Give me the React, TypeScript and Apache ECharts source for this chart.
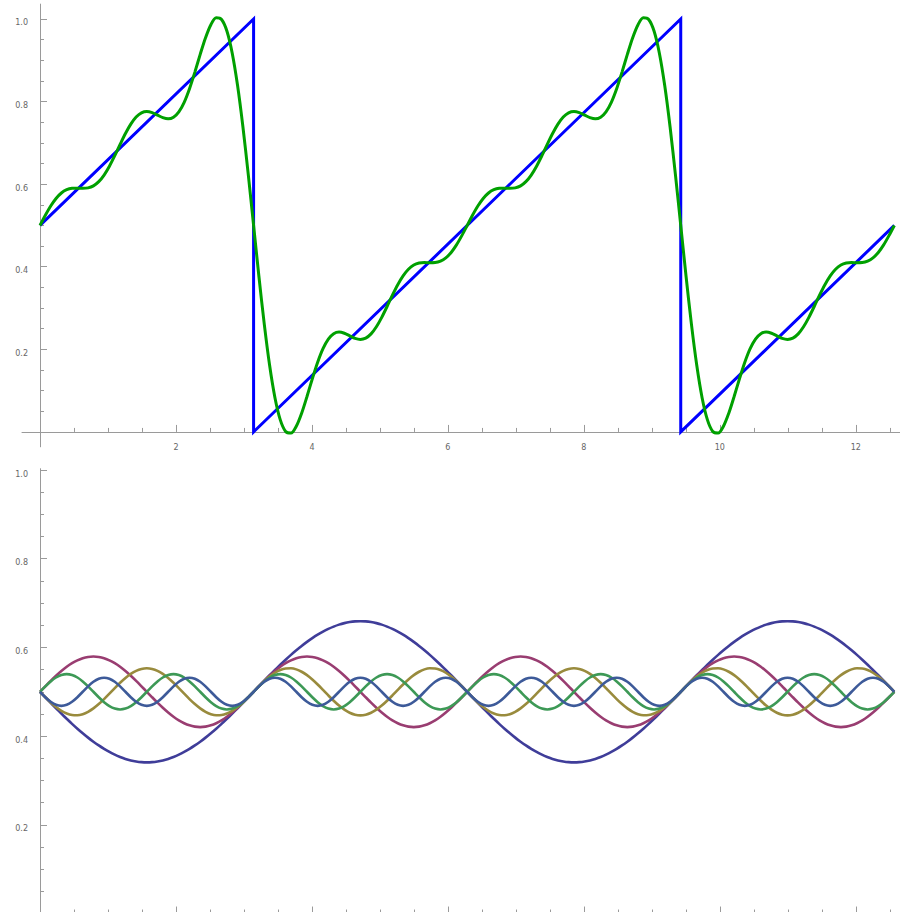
import React, { useEffect, useRef } from 'react';
import * as echarts from 'echarts';

// sample positions (x, radians), step pi/40, shared by the smooth curves
const X = [
  0, 0.0785, 0.1571, 0.2356, 0.3142, 0.3927, 0.4712, 0.5498, 0.6283, 0.7069,
  0.7854, 0.8639, 0.9425, 1.021, 1.0996, 1.1781, 1.2566, 1.3352, 1.4137, 1.4923,
  1.5708, 1.6493, 1.7279, 1.8064, 1.885, 1.9635, 2.042, 2.1206, 2.1991, 2.2777,
  2.3562, 2.4347, 2.5133, 2.5918, 2.6704, 2.7489, 2.8274, 2.906, 2.9845, 3.0631,
  3.1416, 3.2201, 3.2987, 3.3772, 3.4558, 3.5343, 3.6128, 3.6914, 3.7699, 3.8485,
  3.927, 4.0055, 4.0841, 4.1626, 4.2412, 4.3197, 4.3982, 4.4768, 4.5553, 4.6339,
  4.7124, 4.7909, 4.8695, 4.948, 5.0265, 5.1051, 5.1836, 5.2622, 5.3407, 5.4192,
  5.4978, 5.5763, 5.6549, 5.7334, 5.8119, 5.8905, 5.969, 6.0476, 6.1261, 6.2046,
  6.2832, 6.3617, 6.4403, 6.5188, 6.5973, 6.6759, 6.7544, 6.833, 6.9115, 6.99,
  7.0686, 7.1471, 7.2257, 7.3042, 7.3827, 7.4613, 7.5398, 7.6184, 7.6969, 7.7754,
  7.854, 7.9325, 8.0111, 8.0896, 8.1681, 8.2467, 8.3252, 8.4038, 8.4823, 8.5608,
  8.6394, 8.7179, 8.7965, 8.875, 8.9535, 9.0321, 9.1106, 9.1892, 9.2677, 9.3462,
  9.4248, 9.5033, 9.5819, 9.6604, 9.7389, 9.8175, 9.896, 9.9746, 10.0531, 10.1316,
  10.2102, 10.2887, 10.3673, 10.4458, 10.5243, 10.6029, 10.6814, 10.76, 10.8385, 10.917,
  10.9956, 11.0741, 11.1527, 11.2312, 11.3097, 11.3883, 11.4668, 11.5454, 11.6239, 11.7024,
  11.781, 11.8595, 11.9381, 12.0166, 12.0951, 12.1737, 12.2522, 12.3308, 12.4093, 12.4878,
  12.5664,
];

// sawtooth (blue)
const SAW_X = [0, 3.1416, 3.1416, 9.4248, 9.4248, 12.5664];
const SAW_Y = [0.5, 1, 0, 1, 0, 0.5];

// 5-term Fourier approximation (green)
const GREEN = [
  0.5, 0.5246, 0.547, 0.5654, 0.5786, 0.5865, 0.5899, 0.5903, 0.5899, 0.591,
  0.5959, 0.6061, 0.6221, 0.6435, 0.6689, 0.6962, 0.7225, 0.7453, 0.7625, 0.7727,
  0.7759, 0.7733, 0.7673, 0.7611, 0.7582, 0.7621, 0.7751, 0.7983, 0.8312, 0.8713,
  0.9142, 0.9546, 0.9862, 1.0027, 0.9988, 0.9708, 0.9171, 0.8387, 0.7389, 0.6236,
  0.5, 0.3764, 0.2611, 0.1613, 0.0829, 0.0292, 0.0012, -0.0027, 0.0138, 0.0454,
  0.0858, 0.1287, 0.1688, 0.2017, 0.2249, 0.2379, 0.2418, 0.2389, 0.2327, 0.2267,
  0.2241, 0.2273, 0.2375, 0.2547, 0.2775, 0.3038, 0.3311, 0.3565, 0.3779, 0.3939,
  0.4041, 0.409, 0.4101, 0.4097, 0.4101, 0.4135, 0.4214, 0.4346, 0.453, 0.4754,
  0.5, 0.5246, 0.547, 0.5654, 0.5786, 0.5865, 0.5899, 0.5903, 0.5899, 0.591,
  0.5959, 0.6061, 0.6221, 0.6435, 0.6689, 0.6962, 0.7225, 0.7453, 0.7625, 0.7727,
  0.7759, 0.7733, 0.7673, 0.7611, 0.7582, 0.7621, 0.7751, 0.7983, 0.8312, 0.8713,
  0.9142, 0.9546, 0.9862, 1.0027, 0.9988, 0.9708, 0.9171, 0.8387, 0.7389, 0.6236,
  0.5, 0.3764, 0.2611, 0.1613, 0.0829, 0.0292, 0.0012, -0.0027, 0.0138, 0.0454,
  0.0858, 0.1287, 0.1688, 0.2017, 0.2249, 0.2379, 0.2418, 0.2389, 0.2327, 0.2267,
  0.2241, 0.2273, 0.2375, 0.2547, 0.2775, 0.3038, 0.3311, 0.3565, 0.3779, 0.3939,
  0.4041, 0.409, 0.4101, 0.4097, 0.4101, 0.4135, 0.4214, 0.4346, 0.453, 0.4754,
  0.5,
];

// individual harmonic terms (bottom panel)
const TERM1 = [
  0.5, 0.4875, 0.4751, 0.4628, 0.4508, 0.4391, 0.4277, 0.4168, 0.4065, 0.3966,
  0.3875, 0.379, 0.3712, 0.3643, 0.3582, 0.353, 0.3486, 0.3452, 0.3428, 0.3413,
  0.3408, 0.3413, 0.3428, 0.3452, 0.3486, 0.353, 0.3582, 0.3643, 0.3712, 0.379,
  0.3875, 0.3966, 0.4065, 0.4168, 0.4277, 0.4391, 0.4508, 0.4628, 0.4751, 0.4875,
  0.5, 0.5125, 0.5249, 0.5372, 0.5492, 0.5609, 0.5723, 0.5832, 0.5935, 0.6034,
  0.6125, 0.621, 0.6288, 0.6357, 0.6418, 0.647, 0.6514, 0.6548, 0.6572, 0.6587,
  0.6592, 0.6587, 0.6572, 0.6548, 0.6514, 0.647, 0.6418, 0.6357, 0.6288, 0.621,
  0.6125, 0.6034, 0.5935, 0.5832, 0.5723, 0.5609, 0.5492, 0.5372, 0.5249, 0.5125,
  0.5, 0.4875, 0.4751, 0.4628, 0.4508, 0.4391, 0.4277, 0.4168, 0.4065, 0.3966,
  0.3875, 0.379, 0.3712, 0.3643, 0.3582, 0.353, 0.3486, 0.3452, 0.3428, 0.3413,
  0.3408, 0.3413, 0.3428, 0.3452, 0.3486, 0.353, 0.3582, 0.3643, 0.3712, 0.379,
  0.3875, 0.3966, 0.4065, 0.4168, 0.4277, 0.4391, 0.4508, 0.4628, 0.4751, 0.4875,
  0.5, 0.5125, 0.5249, 0.5372, 0.5492, 0.5609, 0.5723, 0.5832, 0.5935, 0.6034,
  0.6125, 0.621, 0.6288, 0.6357, 0.6418, 0.647, 0.6514, 0.6548, 0.6572, 0.6587,
  0.6592, 0.6587, 0.6572, 0.6548, 0.6514, 0.647, 0.6418, 0.6357, 0.6288, 0.621,
  0.6125, 0.6034, 0.5935, 0.5832, 0.5723, 0.5609, 0.5492, 0.5372, 0.5249, 0.5125,
  0.5,
];
const TERM2 = [
  0.5,
  0.5124, 0.5246, 0.5361, 0.5468, 0.5563, 0.5644, 0.5709, 0.5757, 0.5786, 0.5796,
  0.5786, 0.5757, 0.5709, 0.5644, 0.5563, 0.5468, 0.5361, 0.5246, 0.5124, 0.5,
  0.4876, 0.4754, 0.4639, 0.4532, 0.4437, 0.4356, 0.4291, 0.4243, 0.4214, 0.4204,
  0.4214, 0.4243, 0.4291, 0.4356, 0.4437, 0.4532, 0.4639, 0.4754, 0.4876, 0.5,
  0.5124, 0.5246, 0.5361, 0.5468, 0.5563, 0.5644, 0.5709, 0.5757, 0.5786, 0.5796,
  0.5786, 0.5757, 0.5709, 0.5644, 0.5563, 0.5468, 0.5361, 0.5246, 0.5124, 0.5,
  0.4876, 0.4754, 0.4639, 0.4532, 0.4437, 0.4356, 0.4291, 0.4243, 0.4214, 0.4204,
  0.4214, 0.4243, 0.4291, 0.4356, 0.4437, 0.4532, 0.4639, 0.4754, 0.4876, 0.5,
  0.5124, 0.5246, 0.5361, 0.5468, 0.5563, 0.5644, 0.5709, 0.5757, 0.5786, 0.5796,
  0.5786, 0.5757, 0.5709, 0.5644, 0.5563, 0.5468, 0.5361, 0.5246, 0.5124, 0.5,
  0.4876, 0.4754, 0.4639, 0.4532, 0.4437, 0.4356, 0.4291, 0.4243, 0.4214, 0.4204,
  0.4214, 0.4243, 0.4291, 0.4356, 0.4437, 0.4532, 0.4639, 0.4754, 0.4876, 0.5,
  0.5124, 0.5246, 0.5361, 0.5468, 0.5563, 0.5644, 0.5709, 0.5757, 0.5786, 0.5796,
  0.5786, 0.5757, 0.5709, 0.5644, 0.5563, 0.5468, 0.5361, 0.5246, 0.5124, 0.5,
  0.4876, 0.4754, 0.4639, 0.4532, 0.4437, 0.4356, 0.4291, 0.4243, 0.4214, 0.4204,
  0.4214, 0.4243, 0.4291, 0.4356, 0.4437, 0.4532, 0.4639, 0.4754, 0.4876, 0.5,
];
const TERM3 = [
  0.5, 0.4876, 0.4759, 0.4655, 0.4571, 0.451, 0.4476, 0.4471, 0.4495, 0.4548,
  0.4625, 0.4723, 0.4836, 0.4958, 0.5083, 0.5203, 0.5312, 0.5403, 0.5473, 0.5516,
  0.5531, 0.5516, 0.5473, 0.5403, 0.5312, 0.5203, 0.5083, 0.4958, 0.4836, 0.4723,
  0.4625, 0.4548, 0.4495, 0.4471, 0.4476, 0.451, 0.4571, 0.4655, 0.4759, 0.4876,
  0.5, 0.5124, 0.5241, 0.5345, 0.5429, 0.549, 0.5524, 0.5529, 0.5505, 0.5452,
  0.5375, 0.5277, 0.5164, 0.5042, 0.4917, 0.4797, 0.4688, 0.4597, 0.4527, 0.4484,
  0.4469, 0.4484, 0.4527, 0.4597, 0.4688, 0.4797, 0.4917, 0.5042, 0.5164, 0.5277,
  0.5375, 0.5452, 0.5505, 0.5529, 0.5524, 0.549, 0.5429, 0.5345, 0.5241, 0.5124,
  0.5, 0.4876, 0.4759, 0.4655, 0.4571, 0.451, 0.4476, 0.4471, 0.4495, 0.4548,
  0.4625, 0.4723, 0.4836, 0.4958, 0.5083, 0.5203, 0.5312, 0.5403, 0.5473, 0.5516,
  0.5531, 0.5516, 0.5473, 0.5403, 0.5312, 0.5203, 0.5083, 0.4958, 0.4836, 0.4723,
  0.4625, 0.4548, 0.4495, 0.4471, 0.4476, 0.451, 0.4571, 0.4655, 0.4759, 0.4876,
  0.5, 0.5124, 0.5241, 0.5345, 0.5429, 0.549, 0.5524, 0.5529, 0.5505, 0.5452,
  0.5375, 0.5277, 0.5164, 0.5042, 0.4917, 0.4797, 0.4688, 0.4597, 0.4527, 0.4484,
  0.4469, 0.4484, 0.4527, 0.4597, 0.4688, 0.4797, 0.4917, 0.5042, 0.5164, 0.5277,
  0.5375, 0.5452, 0.5505, 0.5529, 0.5524, 0.549, 0.5429, 0.5345, 0.5241, 0.5124,
  0.5,
];
const TERM4 = [
  0.5,
  0.5123, 0.5234, 0.5322, 0.5378, 0.5398, 0.5378, 0.5322, 0.5234, 0.5123, 0.5,
  0.4877, 0.4766, 0.4678, 0.4622, 0.4602, 0.4622, 0.4678, 0.4766, 0.4877, 0.5,
  0.5123, 0.5234, 0.5322, 0.5378, 0.5398, 0.5378, 0.5322, 0.5234, 0.5123, 0.5,
  0.4877, 0.4766, 0.4678, 0.4622, 0.4602, 0.4622, 0.4678, 0.4766, 0.4877, 0.5,
  0.5123, 0.5234, 0.5322, 0.5378, 0.5398, 0.5378, 0.5322, 0.5234, 0.5123, 0.5,
  0.4877, 0.4766, 0.4678, 0.4622, 0.4602, 0.4622, 0.4678, 0.4766, 0.4877, 0.5,
  0.5123, 0.5234, 0.5322, 0.5378, 0.5398, 0.5378, 0.5322, 0.5234, 0.5123, 0.5,
  0.4877, 0.4766, 0.4678, 0.4622, 0.4602, 0.4622, 0.4678, 0.4766, 0.4877, 0.5,
  0.5123, 0.5234, 0.5322, 0.5378, 0.5398, 0.5378, 0.5322, 0.5234, 0.5123, 0.5,
  0.4877, 0.4766, 0.4678, 0.4622, 0.4602, 0.4622, 0.4678, 0.4766, 0.4877, 0.5,
  0.5123, 0.5234, 0.5322, 0.5378, 0.5398, 0.5378, 0.5322, 0.5234, 0.5123, 0.5,
  0.4877, 0.4766, 0.4678, 0.4622, 0.4602, 0.4622, 0.4678, 0.4766, 0.4877, 0.5,
  0.5123, 0.5234, 0.5322, 0.5378, 0.5398, 0.5378, 0.5322, 0.5234, 0.5123, 0.5,
  0.4877, 0.4766, 0.4678, 0.4622, 0.4602, 0.4622, 0.4678, 0.4766, 0.4877, 0.5,
  0.5123, 0.5234, 0.5322, 0.5378, 0.5398, 0.5378, 0.5322, 0.5234, 0.5123, 0.5,
  0.4877, 0.4766, 0.4678, 0.4622, 0.4602, 0.4622, 0.4678, 0.4766, 0.4877, 0.5,
];
const TERM5 = [
  0.5,
  0.4878, 0.4775, 0.4706, 0.4682, 0.4706, 0.4775, 0.4878, 0.5, 0.5122, 0.5225, 0.5294, 0.5318, 0.5294, 0.5225, 0.5122, 0.5,
  0.4878, 0.4775, 0.4706, 0.4682, 0.4706, 0.4775, 0.4878, 0.5, 0.5122, 0.5225, 0.5294, 0.5318, 0.5294, 0.5225, 0.5122, 0.5,
  0.4878, 0.4775, 0.4706, 0.4682, 0.4706, 0.4775, 0.4878, 0.5, 0.5122, 0.5225, 0.5294, 0.5318, 0.5294, 0.5225, 0.5122, 0.5,
  0.4878, 0.4775, 0.4706, 0.4682, 0.4706, 0.4775, 0.4878, 0.5, 0.5122, 0.5225, 0.5294, 0.5318, 0.5294, 0.5225, 0.5122, 0.5,
  0.4878, 0.4775, 0.4706, 0.4682, 0.4706, 0.4775, 0.4878, 0.5, 0.5122, 0.5225, 0.5294, 0.5318, 0.5294, 0.5225, 0.5122, 0.5,
  0.4878, 0.4775, 0.4706, 0.4682, 0.4706, 0.4775, 0.4878, 0.5, 0.5122, 0.5225, 0.5294, 0.5318, 0.5294, 0.5225, 0.5122, 0.5,
  0.4878, 0.4775, 0.4706, 0.4682, 0.4706, 0.4775, 0.4878, 0.5, 0.5122, 0.5225, 0.5294, 0.5318, 0.5294, 0.5225, 0.5122, 0.5,
  0.4878, 0.4775, 0.4706, 0.4682, 0.4706, 0.4775, 0.4878, 0.5, 0.5122, 0.5225, 0.5294, 0.5318, 0.5294, 0.5225, 0.5122, 0.5,
  0.4878, 0.4775, 0.4706, 0.4682, 0.4706, 0.4775, 0.4878, 0.5, 0.5122, 0.5225, 0.5294, 0.5318, 0.5294, 0.5225, 0.5122, 0.5,
  0.4878, 0.4775, 0.4706, 0.4682, 0.4706, 0.4775, 0.4878, 0.5, 0.5122, 0.5225, 0.5294, 0.5318, 0.5294, 0.5225, 0.5122, 0.5,
];
const TERMS = [TERM1, TERM2, TERM3, TERM4, TERM5];
const TERM_COLORS = ['#3f3d99', '#993d71', '#998b3d', '#3d9956', '#3d5a99'];

// ticks
const X_MAJOR = [2, 4, 6, 8, 10, 12];
const X_MINOR = [0.5, 1, 1.5, 2.5, 3, 3.5, 4.5, 5, 5.5, 6.5, 7, 7.5, 8.5, 9, 9.5, 10.5, 11, 11.5, 12.5];
const Y_MAJOR = [0.2, 0.4, 0.6, 0.8, 1.0];
const Y_MINOR = [0.05, 0.1, 0.15, 0.25, 0.3, 0.35, 0.45, 0.5, 0.55, 0.65, 0.7, 0.75, 0.85, 0.9, 0.95];

const X_MIN = -0.265;
const X_MAX = 12.65;
const AX = '#9a9a9a';
const LBL = '#666';
const FONT = 'DejaVu Sans';

const pts = (xs: number[], ys: number[]) => xs.map((x, i) => [x, ys[i]]);

function xAxesFor(grid: number, yIdx: number, labels: boolean) {
  return [
    {
      gridIndex: grid, type: 'value', min: X_MIN, max: X_MAX, position: 'bottom',
      axisLine: { show: true, onZero: true, onZeroAxisIndex: yIdx, lineStyle: { color: AX, width: 1 } },
      axisTick: { show: true, inside: true, length: 7, customValues: X_MAJOR, lineStyle: { color: AX, width: 1 } },
      axisLabel: {
        show: labels, customValues: X_MAJOR, margin: -3, fontSize: 8, color: LBL, fontFamily: FONT,
        formatter: (v: number) => String(v),
      },
      splitLine: { show: false },
    },
    {
      gridIndex: grid, type: 'value', min: X_MIN, max: X_MAX, position: 'bottom',
      axisLine: { show: false, onZero: true, onZeroAxisIndex: yIdx },
      axisTick: { show: true, inside: true, length: 4, customValues: X_MINOR, lineStyle: { color: AX, width: 1 } },
      axisLabel: { show: false },
      splitLine: { show: false },
    },
  ];
}

function yAxesFor(grid: number, xIdx: number, min: number, max: number) {
  return [
    {
      gridIndex: grid, type: 'value', min, max, position: 'left',
      axisLine: { show: true, onZero: true, onZeroAxisIndex: xIdx, lineStyle: { color: AX, width: 1 } },
      axisTick: { show: true, inside: true, length: 7, customValues: Y_MAJOR, lineStyle: { color: AX, width: 1 } },
      axisLabel: {
        show: true, customValues: Y_MAJOR, margin: -6, fontSize: 8, color: LBL, fontFamily: FONT,
        verticalAlign: 'top', formatter: (v: number) => v.toFixed(1),
      },
      splitLine: { show: false },
    },
    {
      gridIndex: grid, type: 'value', min, max, position: 'left',
      axisLine: { show: false, onZero: true, onZeroAxisIndex: xIdx },
      axisTick: { show: true, inside: true, length: 4, customValues: Y_MINOR, lineStyle: { color: AX, width: 1 } },
      axisLabel: { show: false },
      splitLine: { show: false },
    },
  ];
}

export default function App() {
  const ref = useRef<HTMLDivElement>(null);

  useEffect(() => {
    if (!ref.current) return;
    const chart = echarts.init(ref.current, undefined, { renderer: 'svg' });

    const termSeries = TERMS.map((t, i) => ({
      type: 'line', xAxisIndex: 2, yAxisIndex: 2,
      data: pts(X, t), showSymbol: false, smooth: 0.3,
      lineStyle: { color: TERM_COLORS[i], width: 2.6 },
      itemStyle: { color: TERM_COLORS[i] },
      z: 3 + i,
    }));

    chart.setOption({
      animation: false,
      backgroundColor: '#ffffff',
      grid: [
        { left: 22, width: 878, top: 4.1, height: 442.7, containLabel: false, outerBoundsMode: 'none' },
        { left: 22, width: 878, top: 468.7, height: 460.8, containLabel: false, outerBoundsMode: 'none' },
      ],
      xAxis: [...xAxesFor(0, 0, true), ...xAxesFor(1, 2, false)],
      yAxis: [...yAxesFor(0, 0, -0.036, 1.036), ...yAxesFor(1, 2, -0.036, 1.003)],
      series: [
        {
          type: 'line', xAxisIndex: 0, yAxisIndex: 0,
          data: pts(SAW_X, SAW_Y), showSymbol: false,
          lineStyle: { color: '#0000ff', width: 3, join: 'miter' },
          itemStyle: { color: '#0000ff' }, z: 3,
        },
        {
          type: 'line', xAxisIndex: 0, yAxisIndex: 0,
          data: pts(X, GREEN), showSymbol: false, smooth: 0.3,
          lineStyle: { color: '#00a000', width: 3 },
          itemStyle: { color: '#00a000' }, z: 4,
        },
        ...termSeries,
      ],
    } as any);

    return () => chart.dispose();
  }, []);

  return (
    <div style={{ position: 'fixed', left: 0, top: 0, width: 900, height: 912, overflow: 'hidden', background: '#fff' }}>
      <div ref={ref} style={{ width: 900, height: 940 }} />
    </div>
  );
}
